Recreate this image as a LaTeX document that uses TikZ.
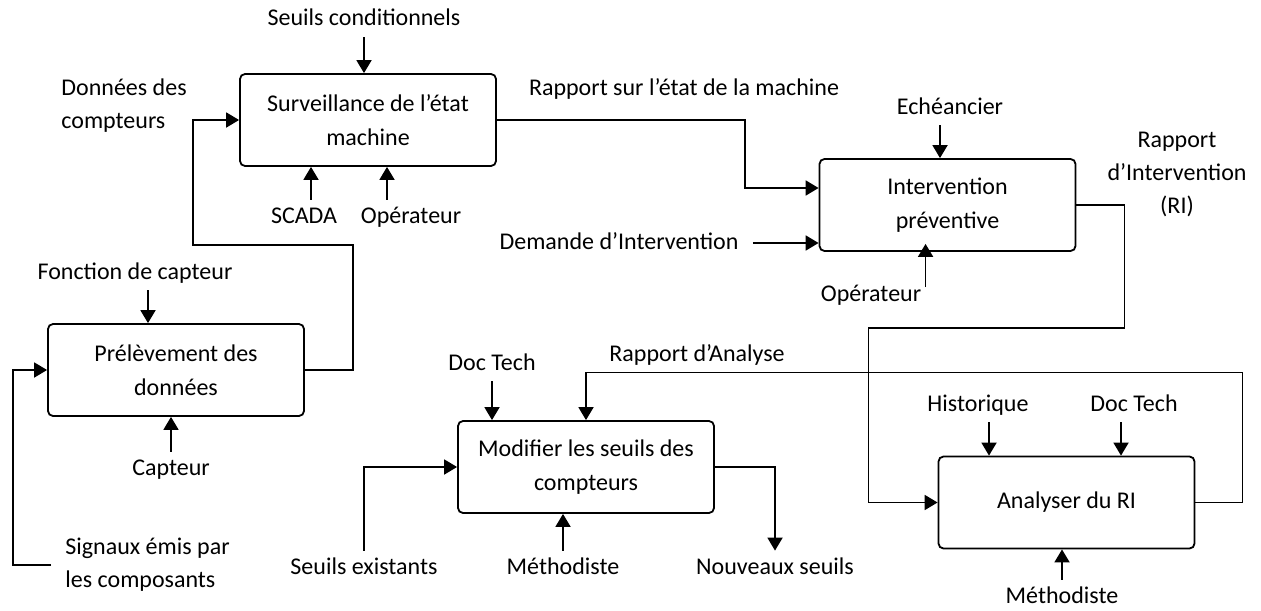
\documentclass[tikz,border=0pt]{standalone}
\usepackage{fontspec}
\setmainfont{Carlito}
\usepackage{tikz}
\usetikzlibrary{
    arrows.meta,
    positioning
}
\tikzset{
    process/.style={
        rectangle,
        rounded corners=2.5pt,
        draw=black,
        line width=0.9pt,
        align=center,
        minimum height=46pt,
        minimum width=128pt,
        font=\fontsize{12}{17}\selectfont
    },
    lbl/.style={
        inner xsep=2pt,
        inner ysep=3pt,
        text height=8.5pt,
        text depth=2.5pt,
        font=\fontsize{12}{16.5}\selectfont
    },
    multilbl/.style={
        inner sep=2pt,
        font=\fontsize{12}{16.5}\selectfont
    },
    arrow/.style={
        -{Triangle[length=6.5pt,width=7.5pt]},
        line width=0.9pt
    }
}

\begin{document}
\begin{tikzpicture}[x=0.5pt, y=-0.5pt]
\useasboundingbox (0,0) rectangle (1261,610);

% activities
\node[process] (surv) at (368,120) {Surveillance de l’état\\machine};
\node[process] (prel) at (176,370) {Prélèvement des\\données};
\node[process] (interv) at (947.5,205) {Intervention\\préventive};
\node[process] (modif) at (586,467) {Modifier les seuils des\\compteurs};
\node[process] (analyse) at (1066.5,502.5) {Analyser du RI};

% inputs, controls, mechanisms
\node[lbl] (seuilscond) at (364,20) {Seuils conditionnels};
\node[lbl] (scada) at (304,217) {SCADA};
\node[lbl] (operA) at (411,217) {Opérateur};
\node[multilbl, align=left, anchor=west] (donnees) at (57,106) {Données des\\compteurs};
\node[lbl] (fonction) at (135,273) {Fonction de capteur};
\node[lbl] (capteur) at (171,469) {Capteur};
\node[multilbl, align=left, anchor=west] (signaux) at (61,565) {Signaux émis par\\les composants};
\node[lbl] (rapetat) at (684,90) {Rapport sur l’état de la machine};
\node[lbl] (echeancier) at (950,108) {Echéancier};
\node[lbl] (demande) at (619,243) {Demande d’Intervention};
\node[lbl] (operB) at (871,295) {Opérateur};
\node[multilbl, align=center] (rapri) at (1177,174) {Rapport\\d’Intervention\\(RI)};
\node[lbl] (doctechA) at (492,364) {Doc Tech};
\node[lbl] (rapanalyse) at (697,355) {Rapport d’Analyse};
\node[lbl] (seuilsex) at (364,568) {Seuils existants};
\node[lbl] (methA) at (563,568) {Méthodiste};
\node[lbl] (nouveaux) at (775,568) {Nouveaux seuils};
\node[lbl] (historique) at (978,405) {Historique};
\node[lbl] (doctechB) at (1134,405) {Doc Tech};
\node[lbl] (methB) at (1062,597) {Méthodiste};

% arrows
\draw[arrow] (seuilscond) -- (seuilscond |- surv.north);
\draw[arrow] ([xshift=3.5pt]scada.north) -- ([xshift=3.5pt]scada.north |- surv.south);
\draw[arrow] ([xshift=-12pt]operA.north) -- ([xshift=-12pt]operA.north |- surv.south);
\draw[arrow] (prel.east) -- ++(48,0) |- ++(-160,-125) |- (surv.west);
\draw[arrow] ([xshift=6.5pt]fonction.south) -- ([xshift=6.5pt]fonction.south |- prel.north);
\draw[arrow] (capteur) -- (capteur |- prel.south);
\draw[arrow] ([xshift=-5pt]signaux.west) -- ++(-38,0) |- (prel.west);

\draw[arrow] (surv.east) -- ++(248,0) |- ([yshift=8.5pt]interv.west);
\draw[arrow] ([xshift=-5pt]echeancier.south) -- ([xshift=-5pt]echeancier.south |- interv.north);
\draw[arrow] ([xshift=5pt]demande.east) -- (demande.east -| interv.west);
\draw[arrow] ([yshift=4pt]operB.east) -- ([yshift=4pt]operB.east |- interv.south);

\draw[arrow] (interv.east) -- ++(48,0) -- ++(0,123) -- ++(-256,0) |- (analyse.west);
\draw[arrow] ([xshift=5.5pt]historique.south) -- ([xshift=5.5pt]historique.south |- analyse.north);
\draw[arrow] ([xshift=-6.5pt]doctechB.south) -- ([xshift=-6.5pt]doctechB.south |- analyse.north);
\draw[arrow] (methB) -- (methB |- analyse.south);

\draw[arrow] (analyse.east) -- ++(47,0) -- ++(0,-130) -| (modif.north);
\draw[arrow] (doctechA) -- (doctechA |- modif.north);
\draw[arrow] (seuilsex) |- (modif.west);
\draw[arrow] (methA) -- (methA |- modif.south);
\draw[arrow] (modif.east) -| (nouveaux);

\end{tikzpicture}
\end{document}
